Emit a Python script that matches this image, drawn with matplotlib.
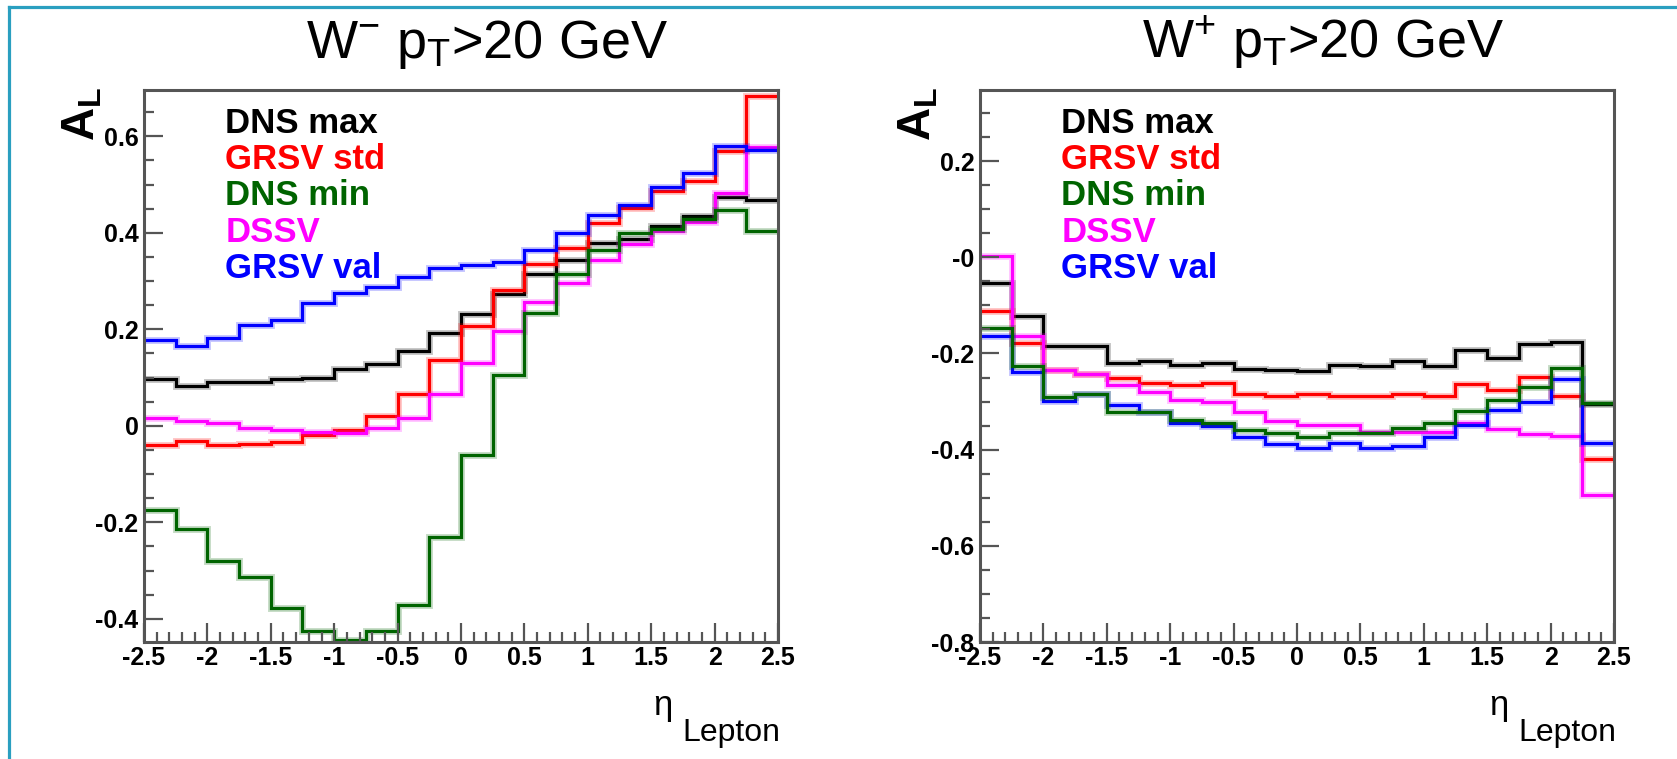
import numpy as np
import matplotlib
matplotlib.use('Agg')
import matplotlib.pyplot as plt
from matplotlib.lines import Line2D

plt.rcParams['font.family'] = ['Liberation Sans', 'DejaVu Sans']
plt.rcParams['mathtext.fontset'] = 'custom'
plt.rcParams['mathtext.rm'] = 'Liberation Sans'
plt.rcParams['mathtext.it'] = 'Liberation Sans:italic'
plt.rcParams['mathtext.bf'] = 'Liberation Sans:bold'

# bin edges in eta (20 bins of 0.25)
eta_edges = np.linspace(-2.5, 2.5, 21)

series_names = ['DNS max', 'GRSV std', 'DNS min', 'DSSV', 'GRSV val']
series_colors = ['#000000', '#ff0000', '#006400', '#ff00ff', '#0000ff']

# W- panel
wm_dns_max = [0.097, 0.082, 0.091, 0.091, 0.098, 0.100, 0.117, 0.129, 0.155, 0.193,
              0.231, 0.274, 0.314, 0.344, 0.379, 0.388, 0.414, 0.435, 0.475, 0.469]
wm_grsv_std = [-0.039, -0.032, -0.039, -0.038, -0.034, -0.020, -0.008, 0.020, 0.067, 0.137,
               0.206, 0.282, 0.335, 0.369, 0.420, 0.452, 0.486, 0.507, 0.569, 0.683]
wm_dns_min = [-0.175, -0.213, -0.281, -0.314, -0.378, -0.425, -0.444, -0.425, -0.372, -0.231,
              -0.060, 0.106, 0.233, 0.314, 0.365, 0.399, 0.407, 0.429, 0.448, 0.403]
wm_dssv = [0.017, 0.010, 0.006, -0.004, -0.009, -0.013, -0.014, -0.005, 0.017, 0.067,
           0.131, 0.197, 0.257, 0.295, 0.344, 0.376, 0.403, 0.422, 0.482, 0.577]
wm_grsv_val = [0.178, 0.166, 0.182, 0.210, 0.219, 0.255, 0.276, 0.288, 0.308, 0.327,
               0.333, 0.339, 0.365, 0.399, 0.437, 0.457, 0.495, 0.524, 0.580, 0.571]

# W+ panel
wp_dns_max = [-0.054, -0.121, -0.184, -0.184, -0.219, -0.215, -0.223, -0.220, -0.232, -0.235,
              -0.236, -0.223, -0.227, -0.216, -0.227, -0.193, -0.210, -0.180, -0.177, -0.305]
wp_grsv_std = [-0.112, -0.178, -0.235, -0.242, -0.251, -0.261, -0.265, -0.262, -0.284, -0.288,
               -0.284, -0.288, -0.288, -0.284, -0.288, -0.263, -0.275, -0.248, -0.288, -0.420]
wp_dns_min = [-0.148, -0.226, -0.290, -0.284, -0.321, -0.321, -0.338, -0.344, -0.359, -0.365,
              -0.373, -0.365, -0.365, -0.355, -0.344, -0.319, -0.297, -0.270, -0.231, -0.303]
wp_dssv = [0.003, -0.163, -0.235, -0.242, -0.265, -0.280, -0.297, -0.301, -0.321, -0.340,
           -0.348, -0.348, -0.363, -0.363, -0.363, -0.344, -0.358, -0.368, -0.372, -0.495]
wp_grsv_val = [-0.163, -0.238, -0.299, -0.284, -0.308, -0.321, -0.344, -0.350, -0.374, -0.389,
               -0.397, -0.387, -0.397, -0.393, -0.374, -0.348, -0.318, -0.300, -0.254, -0.386]

x_ticks = [-2.5, -2, -1.5, -1, -0.5, 0, 0.5, 1, 1.5, 2, 2.5]
x_ticklabels = ['-2.5', '-2', '-1.5', '-1', '-0.5', '0', '0.5', '1', '1.5', '2', '2.5']
wm_yticks = [-0.4, -0.2, 0, 0.2, 0.4, 0.6]
wm_yticklabels = ['-0.4', '-0.2', '0', '0.2', '0.4', '0.6']
wp_yticks = [-0.8, -0.6, -0.4, -0.2, 0, 0.2]
wp_yticklabels = ['-0.8', '-0.6', '-0.4', '-0.2', '-0', '0.2']

W, H = 1677, 759
fig = plt.figure(figsize=(W / 100, H / 100), dpi=100)
fig.patch.set_facecolor('white')

frame_col = '#555555'


def make_panel(left_px, series, ylim, yticks, yticklabels, title):
    ax = fig.add_axes([left_px / W, 1 - 642 / H, 634 / W, 552 / H])
    order = [0, 1, 3, 4, 2]
    for i in order:
        ax.stairs(series[i], eta_edges, baseline=None, color=series_colors[i],
                  lw=5.0, alpha=0.22)
        ax.stairs(series[i], eta_edges, baseline=None, color=series_colors[i],
                  lw=2.3)
    ax.set_xlim(-2.5, 2.5)
    ax.set_xticks(x_ticks, x_ticklabels)
    ax.set_xticks(np.arange(-2.5, 2.51, 0.1), minor=True)
    ax.set_yticks(yticks, yticklabels)
    ax.set_yticks(np.arange(-0.8, 0.71, 0.05), minor=True)
    ax.set_ylim(*ylim)
    ax.tick_params(which='major', direction='in', length=13.5, width=1.6,
                   color=frame_col, labelsize=18, pad=3)
    ax.tick_params(which='minor', direction='in', length=7, width=1.6,
                   color=frame_col)
    ax.tick_params(axis='y', pad=4)
    for lab in ax.get_xticklabels() + ax.get_yticklabels():
        lab.set_fontweight('bold')
    for sp in ax.spines.values():
        sp.set_color(frame_col)
        sp.set_linewidth(2.2)

    # legend as coloured text lines
    for i, name in enumerate(series_names):
        ax.text(0.128, 0.922 - i * 0.0655, name, transform=ax.transAxes,
                color=series_colors[i], fontsize=25, fontweight='bold',
                ha='left', va='baseline')

    # title
    fig.text((left_px + 343) / W, 1 - 58 / H, title, fontsize=39,
             ha='center', va='baseline')
    # y label
    fig.text((left_px - 61) / W, 1 - 87 / H, r'$\mathbf{A}_{\mathbf{L}}$',
             fontsize=33, rotation=90, ha='center', va='top')
    # x label
    fig.text((left_px + 528) / W, 1 - 715 / H, '\u03b7', fontsize=25,
             ha='right', va='baseline')
    fig.text((left_px + 636) / W, 1 - 741 / H, 'Lepton', fontsize=23,
             ha='right', va='baseline')
    return ax


make_panel(144, [wm_dns_max, wm_grsv_std, wm_dns_min, wm_dssv, wm_grsv_val],
           (-0.448, 0.696), wm_yticks, wm_yticklabels,
           r'W$^{-}$ p$_{\rm T}$>20 GeV')
make_panel(980, [wp_dns_max, wp_grsv_std, wp_dns_min, wp_dssv, wp_grsv_val],
           (-0.8, 0.348), wp_yticks, wp_yticklabels,
           r'W$^{+}$ p$_{\rm T}$>20 GeV')

# teal screenshot border (top and left)
border_col = '#2a9fc0'
fig.add_artist(Line2D([8.5 / W, 1.0], [1 - 6.5 / H, 1 - 6.5 / H],
                      transform=fig.transFigure, color=border_col, lw=2.3))
fig.add_artist(Line2D([8.5 / W, 8.5 / W], [0.0, 1 - 6.5 / H],
                      transform=fig.transFigure, color=border_col, lw=2.3))

fig.savefig('out.png', dpi=100)
